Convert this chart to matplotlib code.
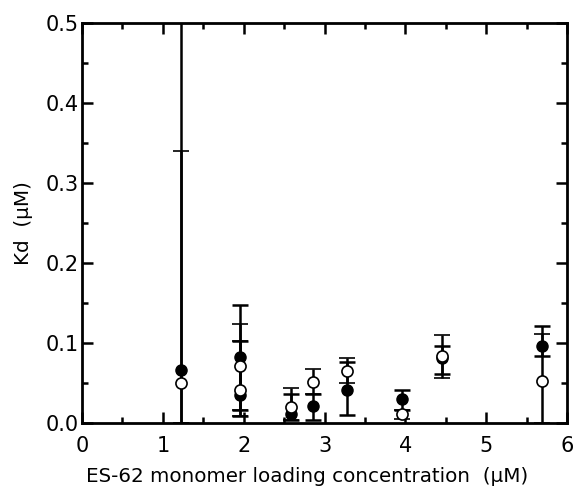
import numpy as np
import matplotlib.pyplot as plt
from matplotlib.ticker import MultipleLocator

# filled circles: concentration, Kd, lower and upper error bar ends
filled_x = [1.22, 1.96, 1.96, 2.59, 2.86, 3.28, 3.96, 4.45, 5.69]
filled_y = [0.066, 0.083, 0.035, 0.012, 0.021, 0.042, 0.030, 0.082, 0.097]
filled_lo = [0.0, 0.016, 0.009, 0.004, 0.004, 0.010, 0.016, 0.062, 0.084]
filled_hi = [0.9, 0.148, 0.103, 0.036, 0.036, 0.077, 0.041, 0.097, 0.122]

# open circles
open_x = [1.22, 1.96, 1.96, 2.59, 2.86, 3.28, 3.96, 4.45, 5.69]
open_y = [0.050, 0.071, 0.041, 0.020, 0.052, 0.065, 0.011, 0.084, 0.053]
open_lo = [0.0, 0.009, 0.016, 0.004, 0.036, 0.050, 0.005, 0.056, 0.0]
open_hi = [0.34, 0.124, 0.103, 0.044, 0.068, 0.082, 0.016, 0.110, 0.111]

fig = plt.figure(figsize=(5.73, 4.87), dpi=100)
ax = fig.add_axes([0.143, 0.131, 0.847, 0.822])

def err(y, lo, hi):
    y = np.array(y)
    return [y - np.array(lo), np.array(hi) - y]

ax.errorbar(filled_x, filled_y, yerr=err(filled_y, filled_lo, filled_hi),
            fmt='o', color='black', ms=8, elinewidth=1.8, capsize=5.5,
            capthick=1.8, zorder=3)
ax.errorbar(open_x, open_y, yerr=err(open_y, open_lo, open_hi),
            fmt='o', color='black', mfc='white', mec='black', mew=1.2,
            ms=8, elinewidth=1.8, capsize=5.5, capthick=1.8, zorder=4)

ax.set_xlim(0, 6)
ax.set_ylim(0, 0.5)
ax.xaxis.set_major_locator(MultipleLocator(1))
ax.xaxis.set_minor_locator(MultipleLocator(0.5))
ax.yaxis.set_major_locator(MultipleLocator(0.1))
ax.yaxis.set_minor_locator(MultipleLocator(0.05))
ax.yaxis.set_major_formatter(plt.FormatStrFormatter('%.1f'))
ax.tick_params(which='both', direction='in', top=True, right=True,
               width=1.8, labelsize=15)
ax.tick_params(which='major', length=8)
ax.tick_params(which='minor', length=4)
ax.tick_params(axis='x', which='major', pad=9)
ax.tick_params(axis='y', which='major', pad=2)
for s in ax.spines.values():
    s.set_linewidth(2)

ax.set_xlabel('ES-62 monomer loading concentration  (\u00b5M)', fontsize=14.3)
ax.xaxis.set_label_coords(0.464, -0.11)
ax.set_ylabel('Kd  (\u00b5M)', fontsize=14.3)
ax.yaxis.set_label_coords(-0.10, 0.5)

fig.savefig('out.png', dpi=100)
